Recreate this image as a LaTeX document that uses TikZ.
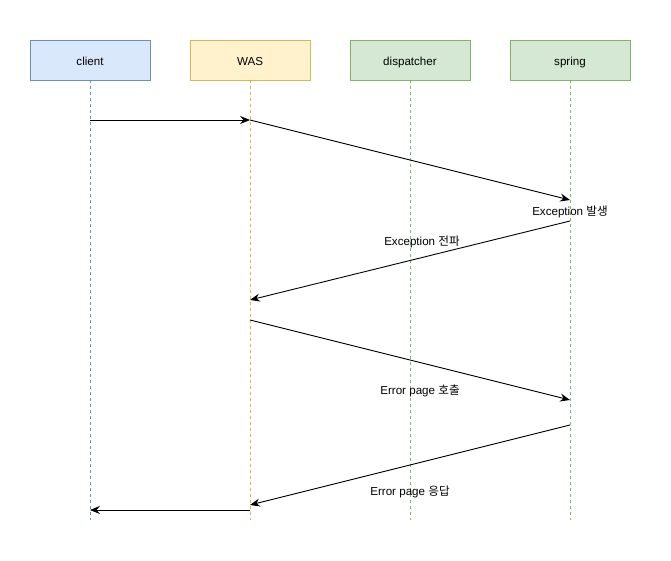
\documentclass[tikz,border=0pt]{standalone}
\usepackage{fontspec}
\setmainfont{Liberation Sans}
\newfontfamily\kr{Noto Sans CJK KR}
\usetikzlibrary{arrows.meta}
\definecolor{cfill}{HTML}{DAE8FC}\definecolor{cdraw}{HTML}{6C8EBF}
\definecolor{wfill}{HTML}{FFF2CC}\definecolor{wdraw}{HTML}{D6B656}
\definecolor{gfill}{HTML}{D5E8D4}\definecolor{gdraw}{HTML}{82B366}
\tikzset{
  actor/.style={draw, minimum width=120pt, minimum height=40pt, inner sep=0pt, font=\fontsize{11.6}{13}\selectfont, line width=0.8pt, text height=11pt, text depth=0pt},
  life/.style={dash pattern=on 3pt off 3pt, line width=0.8pt},
  msg/.style={-{Stealth[length=10pt,width=8pt,inset=3.5pt]}, line width=0.9pt},
  lbl/.style={font=\fontsize{11.6}{13}\selectfont, inner sep=1pt}
}
\begin{document}
\begin{tikzpicture}[x=1pt,y=-1pt]
\useasboundingbox (0,0) rectangle (671,561);
\node[actor, fill=cfill, draw=cdraw] (client) at (90,60) {client};
\node[actor, fill=wfill, draw=wdraw] (was) at (250,60) {WAS};
\node[actor, fill=gfill, draw=gdraw] (disp) at (410,60) {dispatcher};
\node[actor, fill=gfill, draw=gdraw] (spring) at (570,60) {spring};
\coordinate (cE) at (90,520);
\coordinate (wE) at (250,520);
\coordinate (dE) at (410,520);
\coordinate (sE) at (570,520);
\draw[life, cdraw] (client.south) -- (cE);
\draw[life, wdraw] (was.south) -- (wE);
\draw[life, gdraw] (disp.south) -- (dE);
\draw[life, gdraw] (spring.south) -- (sE);
\coordinate (c1) at (90,120);
\coordinate (w1) at (250,120);
\coordinate (s1) at (570,200);
\coordinate (s2) at (570,221);
\coordinate (w2) at (250,300);
\coordinate (w3) at (250,320);
\coordinate (s3) at (570,400);
\coordinate (s4) at (570,425);
\coordinate (w4) at (250,505);
\coordinate (w5) at (250,510);
\coordinate (c5) at (90,510);
\draw[msg] (c1) -- (w1);
\draw[msg] (w1) -- (s1);
\draw[msg] (s2) -- (w2);
\draw[msg] (w3) -- (s3);
\draw[msg] (s4) -- (w4);
\draw[msg] (w5) -- (c5);
\node[lbl] (l1) at (570,211.5) {Exception {\kr 발생}};
\node[lbl] (l2) at (422,241.5) {Exception {\kr 전파}};
\node[lbl] (l3) at (420,390.5) {Error page {\kr 호출}};
\node[lbl] (l4) at (410,491.5) {Error page {\kr 응답}};
\end{tikzpicture}
\end{document}
